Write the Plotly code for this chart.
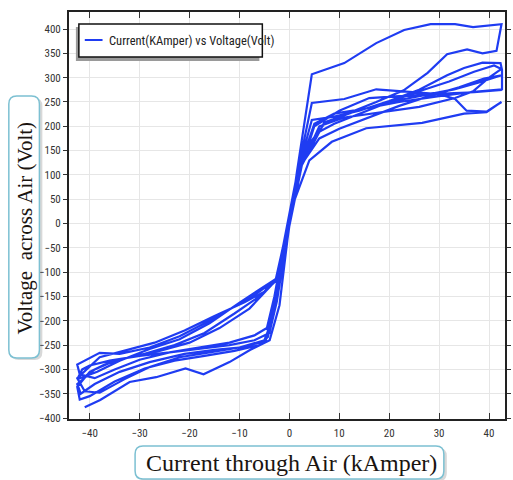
import plotly.graph_objects as go

# ---- data: current (kA) and voltage (V), six cycles ----
cycle1_current = [-41.0, -37.9, -32.0, -26.7, -20.8, -17.2, -12.0, -7.9, -3.95, -1.98, -0.4, 1.5,
                  4.5, 11.0, 17.4, 23.0, 28.3, 33.2, 36.8, 42.5,
                  41.5, 38.7, 35.6, 31.6, 27.7, 22.9, 17.4, 12.0, 7.0, 3.0, 1.0,
                  -1.5, -2.7, -6.0, -10.0, -16.0, -22.0, -28.0, -34.0, -38.0, -42.5]
cycle1_voltage = [-378, -363, -326, -316, -298, -310, -285, -260, -240, -168, -34, 105,
                  307, 330, 371, 398, 410, 410, 404, 410,
                  355, 350, 358, 348, 310, 274, 250, 228, 205, 150, 60,
                  -60, -115, -140, -165, -200, -232, -255, -268, -266, -290]

cycle2_current = [-42.5, -42.0, -39.0, -35.0, -30.0, -24.0, -18.0, -12.0, -7.0, -4.5, -3.0, -1.0, 0.5, 1.5,
                  4.5, 11.0, 17.4, 24.0, 30.0, 33.2, 35.5, 39.5, 42.5,
                  39.5, 35.0, 26.6, 15.4, 8.5, 4.0, 1.5, 0.0,
                  -1.5, -2.6, -5.0, -9.0, -15.0, -21.0, -27.0, -33.0, -38.0, -42.5]
cycle2_voltage = [-290, -310, -318, -300, -280, -265, -255, -245, -230, -215, -150, -40, 50, 100,
                  248, 256, 276, 271, 266, 256, 232, 230, 250,
                  229, 226, 207, 196, 168, 130, 60, 20,
                  -70, -112, -140, -162, -190, -220, -245, -262, -275, -318]

cycle3_current = [-42.5, -41.0, -38.0, -33.0, -28.0, -22.0, -16.0, -10.0, -5.0, -3.5, -1.5, 1.5,
                  4.5, 9.0, 14.0, 20.0, 26.0, 31.6, 35.0, 38.7, 42.3, 42.6, 42.6, 42.6,
                  37.0, 30.0, 22.0, 15.0, 9.0, 5.0, 2.0, 0.0,
                  -2.8, -8.0, -14.0, -20.0, -26.0, -32.0, -37.0, -40.0, -42.5]
cycle3_voltage = [-318, -345, -348, -320, -295, -275, -265, -255, -240, -200, -60, 100,
                  213, 220, 232, 252, 275, 305, 320, 331, 330, 316, 290, 276,
                  271, 262, 250, 236, 226, 205, 115, 10,
                  -118, -175, -215, -245, -262, -275, -290, -305, -336]

cycle4_current = [-42.5, -42.0, -40.0, -35.0, -29.0, -23.0, -17.0, -11.0, -6.0, -4.3, -2.5, -0.5, 1.8,
                  5.5, 9.0, 14.0, 20.0, 26.0, 32.0, 37.0, 41.0, 42.5,
                  40.0, 36.8, 33.2, 26.0, 18.0, 11.0, 6.0, 2.0, 0.0,
                  -2.5, -6.0, -11.0, -17.0, -23.0, -29.0, -35.0, -39.0, -42.5]
cycle4_voltage = [-336, -362, -355, -325, -298, -282, -272, -262, -250, -233, -150, -20, 110,
                  186, 205, 225, 250, 272, 292, 312, 325, 318,
                  300, 272, 258, 240, 228, 218, 200, 110, 10,
                  -116, -150, -185, -225, -250, -268, -282, -300, -330]

cycle5_current = [-42.5, -41.8, -39.0, -34.0, -28.0, -21.0, -15.0, -9.0, -4.7, -3.5, -1.0, 2.0,
                  6.0, 10.0, 16.0, 22.0, 28.0, 34.0, 39.0, 42.5,
                  38.0, 33.0, 26.0, 20.0, 13.0, 7.0, 2.0, 0.0,
                  -2.7, -9.9, -16.0, -22.0, -28.0, -34.0, -38.5, -42.5]
cycle5_voltage = [-330, -350, -330, -305, -285, -268, -260, -254, -240, -180, -40, 115,
                  175, 195, 218, 242, 262, 280, 298, 305,
                  290, 276, 262, 250, 230, 208, 110, 10,
                  -114, -162, -205, -238, -258, -282, -305, -320]

cycle6_current = [-42.5, -41.5, -40.0, -36.0, -30.0, -24.0, -18.0, -12.0, -7.0, -4.0, -2.5, -0.5, 2.5,
                  5.0, 10.0, 16.0, 22.0, 28.0, 33.0, 37.0, 40.0, 42.6]
cycle6_voltage = [-320, -300, -292, -282, -272, -265, -258, -250, -240, -225, -160, -30, 120,
                  200, 232, 258, 262, 266, 268, 270, 272, 275]

current_kA = (cycle1_current + cycle2_current + cycle3_current +
              cycle4_current + cycle5_current + cycle6_current)
voltage_V = (cycle1_voltage + cycle2_voltage + cycle3_voltage +
             cycle4_voltage + cycle5_voltage + cycle6_voltage)

x_ticks = [-40, -30, -20, -10, 0, 10, 20, 30, 40]
y_ticks = list(range(-400, 401, 50))

legend_label = "Current(KAmper) vs Voltage(Volt)"
x_title = "Current through Air (kAmper)"
y_title = "Voltage\u00a0 across Air (Volt)"

LINE = "#1f3cf2"
W, H = 513, 480
L, R, T, B = 69, 2, 12, 61
PW, PH = W - L - R, H - T - B


def px(xp):
    return (xp - L) / PW


def py(yp):
    return (H - B - yp) / PH


def rounded(x0, y0, x1, y1, r):
    # path in paper coordinates from pixel box
    def P(a, b):
        return f"{px(a):.5f},{py(b):.5f}"
    return (f"M {P(x0 + r, y0)} L {P(x1 - r, y0)} Q {P(x1, y0)} {P(x1, y0 + r)} "
            f"L {P(x1, y1 - r)} Q {P(x1, y1)} {P(x1 - r, y1)} L {P(x0 + r, y1)} "
            f"Q {P(x0, y1)} {P(x0, y1 - r)} L {P(x0, y0 + r)} Q {P(x0, y0)} {P(x0 + r, y0)} Z")


fig = go.Figure()
fig.add_trace(go.Scatter(x=current_kA, y=voltage_V, mode="lines",
                         line=dict(color=LINE, width=2.2), name=legend_label,
                         showlegend=False))

narrow = "Liberation Sans Narrow, Arial Narrow, Roboto Condensed, sans-serif"
serif = "Liberation Serif, Times New Roman, serif"

shapes = []
# y-title box with shadow
shapes.append(dict(type="path", xref="paper", yref="paper", path=rounded(10, 98, 42, 360, 8),
                   fillcolor="#d8d8d8", line=dict(width=0), layer="below"))
shapes.append(dict(type="path", xref="paper", yref="paper", path=rounded(8, 96, 39, 358, 8),
                   fillcolor="white", line=dict(color="#7cc0d2", width=1.5), layer="above"))
# x-title box with shadow
shapes.append(dict(type="path", xref="paper", yref="paper", path=rounded(139, 448, 452, 481, 8),
                   fillcolor="#d8d8d8", line=dict(width=0), layer="below"))
shapes.append(dict(type="path", xref="paper", yref="paper", path=rounded(136, 446, 449, 479, 8),
                   fillcolor="white", line=dict(color="#7cc0d2", width=1.5), layer="above"))
# legend box with shadow
shapes.append(dict(type="rect", xref="paper", yref="paper", x0=px(76), x1=px(262), y0=py(61), y1=py(27),
                   fillcolor="#9a9a9a", line=dict(width=0), layer="above"))
shapes.append(dict(type="rect", xref="paper", yref="paper", x0=px(79), x1=px(265), y0=py(57), y1=py(24),
                   fillcolor="white", line=dict(color="#111111", width=1.5), layer="above"))
shapes.append(dict(type="line", xref="paper", yref="paper", x0=px(85), x1=px(103), y0=py(40), y1=py(40),
                   line=dict(color=LINE, width=2), layer="above"))

annotations = [
    dict(text=legend_label, x=px(108), y=py(40.5), xref="paper", yref="paper",
         xanchor="left", yanchor="middle", showarrow=False,
         font=dict(family=narrow, size=12.5, color="#222222")),
    dict(text=y_title, x=px(24), y=py(228), xref="paper", yref="paper",
         xanchor="center", yanchor="middle", showarrow=False, textangle=-90,
         font=dict(family=serif, size=21, color="#1a1410")),
    dict(text=x_title, x=px(295), y=py(463), xref="paper", yref="paper",
         xanchor="center", yanchor="middle", showarrow=False,
         font=dict(family=serif, size=24, color="#1a1410")),
]

fig.update_layout(
    width=W, height=H,
    margin=dict(l=L, r=R, t=T, b=B),
    paper_bgcolor="white", plot_bgcolor="white",
    showlegend=False,
    shapes=shapes, annotations=annotations,
    xaxis=dict(range=[-44.15, 43.2], tickvals=x_ticks, ticks="inside", ticklen=6,
               tickcolor="#333333", showline=True, linecolor="#222222", linewidth=2,
               mirror="ticks", showgrid=True, gridcolor="#e6e6e6", gridwidth=1,
               zeroline=False, tickfont=dict(family=narrow, size=11, color="#333333"),
               ticklabelstandoff=3),
    yaxis=dict(range=[-402, 435], tickvals=y_ticks, ticks="outside", ticklen=4,
               tickcolor="#333333", showline=True, linecolor="#222222", linewidth=2,
               mirror="ticks", showgrid=True, gridcolor="#e6e6e6", gridwidth=1,
               zeroline=False, tickfont=dict(family=narrow, size=11, color="#333333")),
)

fig.write_html("out.html", config={"displayModeBar": False},
               post_script="document.body.style.margin='0';document.body.style.overflow='hidden';")
